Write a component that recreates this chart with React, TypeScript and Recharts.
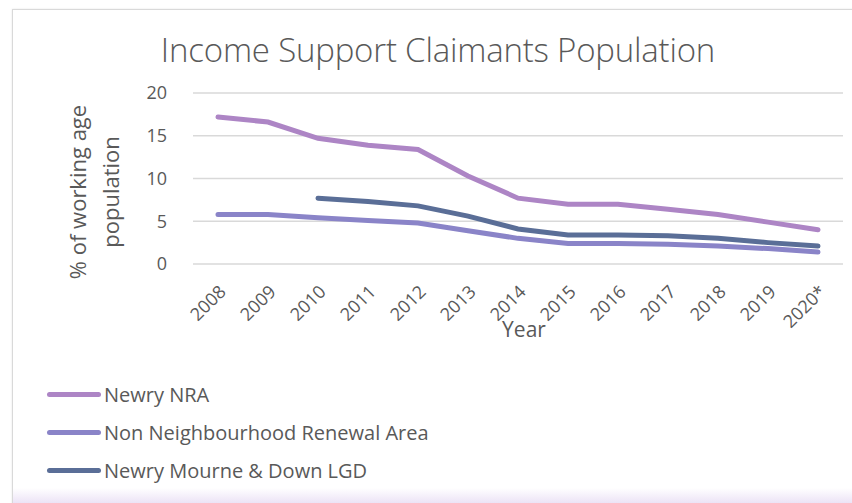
import { CartesianGrid, Label, Line, LineChart, XAxis, YAxis } from "recharts";

const YEARS = ["2008", "2009", "2010", "2011", "2012", "2013", "2014", "2015", "2016", "2017", "2018", "2019", "2020*"];
const NEWRY_NRA = [17.2, 16.6, 14.7, 13.9, 13.4, 10.3, 7.7, 7.0, 7.0, 6.4, 5.8, 4.9, 4.0];
const NON_NRA = [5.8, 5.8, 5.4, 5.1, 4.8, 3.9, 3.0, 2.4, 2.4, 2.3, 2.1, 1.8, 1.4];
const LGD = [null, null, 7.7, 7.3, 6.8, 5.6, 4.1, 3.4, 3.4, 3.3, 3.0, 2.5, 2.1];
const Y_TICKS = [0, 5, 10, 15, 20];

const data = YEARS.map((year, i) => ({
  year,
  nra: NEWRY_NRA[i],
  non: NON_NRA[i],
  lgd: LGD[i],
}));

const SERIES = [
  { key: "nra", label: "Newry NRA", color: "#ad85c5" },
  { key: "non", label: "Non Neighbourhood Renewal Area", color: "#8a84c8" },
  { key: "lgd", label: "Newry Mourne & Down LGD", color: "#5a6e97" },
];

const FONT = "'Open Sans', 'Noto Sans', sans-serif";
const TEXT = "#595959";

function XTick({ x, y, payload }: any) {
  const ax = x + 4;
  const ay = y + 16;
  return (
    <text
      x={ax}
      y={ay}
      transform={`rotate(-45 ${ax} ${ay})`}
      textAnchor="end"
      fill={TEXT}
      fontSize={18}
      fontFamily={FONT}
      dominantBaseline="central"
    >
      {payload.value}
    </text>
  );
}

export default function App() {
  return (
    <div style={{ position: "absolute", left: 0, top: 0, width: 852, height: 503, background: "#fff", overflow: "hidden", fontFamily: FONT }}>
      <div
        style={{
          position: "absolute",
          left: 12,
          top: 9,
          width: 900,
          height: 520,
          border: "1px solid #d9d9d9",
          boxShadow: "0 0 2px #e6e6e6",
        }}
      />
      <div
        style={{
          position: "absolute",
          left: 13,
          top: 488,
          width: 900,
          height: 15,
          background: "linear-gradient(to bottom, #ffffff, #ece3f6)",
        }}
      />
      <div style={{ position: "absolute", left: 0, top: 27, width: 876, textAlign: "center", fontSize: 33, color: TEXT, fontWeight: 300, letterSpacing: -0.2 }}>
        Income Support Claimants Population
      </div>
      <div style={{ position: "absolute", left: 0, top: 0 }}>
        <LineChart width={852} height={503} data={data} margin={{ top: 93, right: 9, left: 0, bottom: 0 }}>
          <CartesianGrid stroke="#d9d9d9" strokeWidth={1.5} vertical={false} />
          <XAxis
            dataKey="year"
            axisLine={false}
            tickLine={false}
            height={239}
            interval={0}
            tick={<XTick />}
            padding={{ left: 25, right: 25 }}
          >
            <Label value="Year" position="insideTop" offset={58} dx={6} fill={TEXT} fontSize={21} fontFamily={FONT} />
          </XAxis>
          <YAxis
            domain={[0, 20]}
            ticks={Y_TICKS}
            axisLine={false}
            tickLine={false}
            width={193}
            tick={{ fill: TEXT, fontSize: 18, fontFamily: FONT }}
            tickMargin={20}
          />
          {SERIES.map((s) => (
            <Line
              key={s.key}
              type="linear"
              dataKey={s.key}
              stroke={s.color}
              strokeWidth={5}
              strokeLinecap="round"
              dot={false}
              activeDot={false}
              isAnimationActive={false}
            />
          ))}
          <text x={0} y={0} transform="translate(77 192) rotate(-90)" textAnchor="middle" fill={TEXT} fontSize={22} fontFamily={FONT} dominantBaseline="central">
            % of working age
          </text>
          <text x={0} y={0} transform="translate(110 192) rotate(-90)" textAnchor="middle" fill={TEXT} fontSize={22} fontFamily={FONT} dominantBaseline="central">
            population
          </text>
        </LineChart>
      </div>
      <div style={{ position: "absolute", left: 47, top: 375 }}>
        {SERIES.map((s) => (
          <div key={s.key} style={{ display: "flex", alignItems: "center", height: 38, color: TEXT, fontSize: 20 }}>
            <span style={{ display: "inline-block", width: 54, height: 5, borderRadius: 3, background: s.color, marginRight: 3 }} />
            {s.label}
          </div>
        ))}
      </div>
    </div>
  );
}
